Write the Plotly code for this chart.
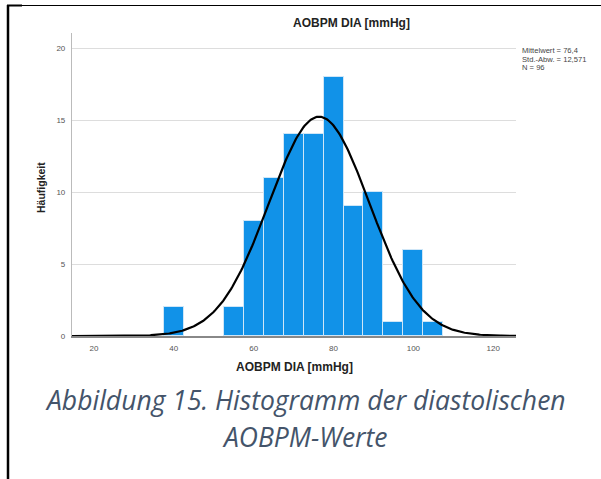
import numpy as np
import plotly.graph_objects as go

# ---- data ----
bin_centers = [40, 55, 60, 65, 70, 75, 80, 85, 90, 95, 100, 105]
counts = [2, 2, 8, 11, 14, 14, 18, 9, 10, 1, 6, 1]
bin_width = 5
mean_val = 76.4
sd_val = 12.571
n_val = 96
x_ticks = [20, 40, 60, 80, 100, 120]
y_ticks = [0, 5, 10, 15, 20]

W, H = 601, 479
L, R, T, B = 72, 516, 33, 336  # plot area in px


def px(x):
    return (x - L) / (R - L)


def py(y):
    return (B - y) / (B - T)


xr = [14.5, 125.7]
xs = np.linspace(xr[0], xr[1], 400)
ys = n_val * bin_width / (sd_val * np.sqrt(2 * np.pi)) * np.exp(-0.5 * ((xs - mean_val) / sd_val) ** 2)

fig = go.Figure()
fig.add_trace(go.Bar(x=bin_centers, y=counts, width=[bin_width] * len(counts),
                     marker=dict(color="#1192E8", line=dict(color="#CFE6F7", width=1)),
                     showlegend=False, hoverinfo="skip"))
fig.add_trace(go.Scatter(x=xs, y=ys, mode="lines", line=dict(color="#000000", width=2.2),
                         showlegend=False, hoverinfo="skip"))

fig.update_layout(
    width=W, height=H,
    margin=dict(l=L, r=W - R, t=T, b=H - B),
    paper_bgcolor="white", plot_bgcolor="white",
    font=dict(family="Liberation Sans, Arial, sans-serif", color="#333333"),
    bargap=0,
    xaxis=dict(range=xr, tickvals=x_ticks, ticktext=[str(v) for v in x_ticks],
               showgrid=False, zeroline=False, showline=True, linecolor="#888888", linewidth=1.5,
               ticks="", tickfont=dict(size=8, color="#555555"), ticklabelstandoff=4),
    yaxis=dict(range=[0, 21.05], tickvals=y_ticks, ticktext=[str(v) for v in y_ticks],
               showgrid=True, gridcolor="#DDDDDD", gridwidth=1, zeroline=False,
               showline=True, linecolor="#BBBBBB", linewidth=1.2,
               ticks="", tickfont=dict(size=8, color="#555555"), ticklabelstandoff=4),
)

annotations = [
    dict(x=px(351), y=py(23), text="<b>AOBPM DIA [mmHg]</b>", font=dict(size=12, color="#222222")),
    dict(x=px(294), y=py(367), text="<b>AOBPM DIA [mmHg]</b>", font=dict(size=12, color="#222222")),
    dict(x=px(41), y=py(188), text="<b>Häufigkeit</b>", textangle=-90, font=dict(size=10.5, color="#222222")),
    dict(x=px(521), y=py(50.5), text="Mittelwert = 76,4", xanchor="left", font=dict(size=7.6, color="#444444")),
    dict(x=px(521), y=py(59), text="Std.-Abw. = 12,571", xanchor="left", font=dict(size=7.6, color="#444444")),
    dict(x=px(521), y=py(67.5), text="N = 96", xanchor="left", font=dict(size=7.6, color="#444444")),
    dict(x=px(305), y=py(400), text="<i>Abbildung 15. Histogramm der diastolischen</i>",
         font=dict(family="Open Sans, sans-serif", size=26.5, color="#44546A")),
    dict(x=px(305), y=py(437), text="<i>AOBPM-Werte</i>",
         font=dict(family="Open Sans, sans-serif", size=26.5, color="#44546A")),
]
for a in annotations:
    a.setdefault("xanchor", "center")
    a.update(xref="paper", yref="paper", yanchor="middle", showarrow=False, borderpad=0)
fig.update_layout(annotations=annotations)

shapes = [
    dict(type="line", x0=px(8), x1=px(8), y0=py(5), y1=py(480), line=dict(color="black", width=2.5)),
    dict(type="line", x0=px(7), x1=px(601), y0=py(5.5), y1=py(5.5), line=dict(color="black", width=1.2)),
    dict(type="line", x0=px(7), x1=px(22), y0=py(5.5), y1=py(5.5), line=dict(color="black", width=2)),
]
for s in shapes:
    s.update(xref="paper", yref="paper")
fig.update_layout(shapes=shapes)

fig.write_html("out.html")
